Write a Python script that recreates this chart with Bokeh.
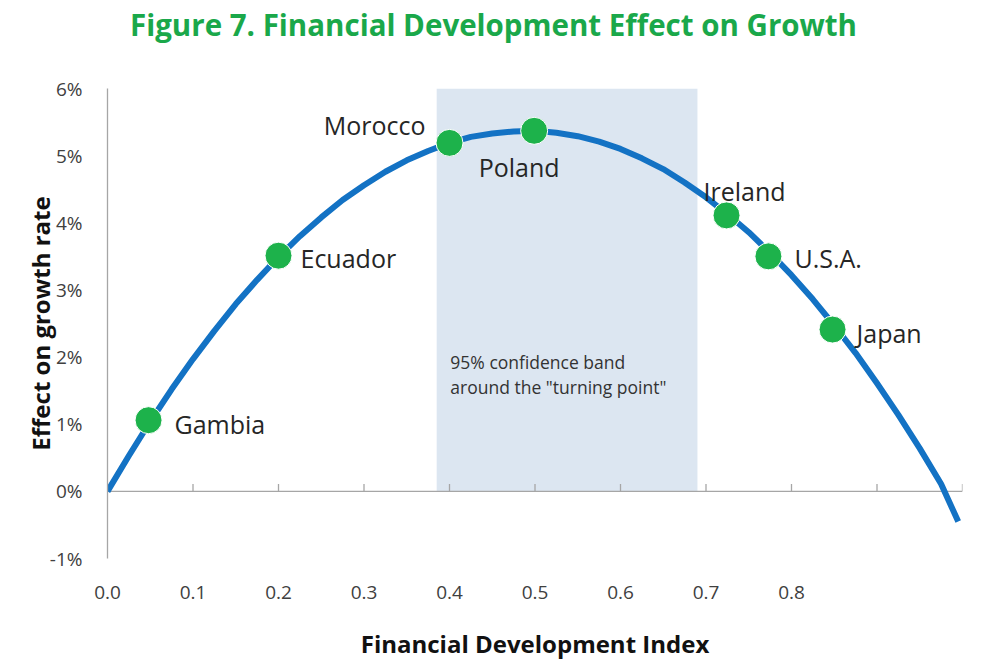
from bokeh.plotting import figure
from bokeh.models import ColumnDataSource, FixedTicker, CustomJSTickFormatter, Div
from bokeh.layouts import column
from bokeh.core.properties import value
from bokeh.embed import file_html
from bokeh.resources import INLINE

# ---- data ----
curve_x = [0.0, 0.025, 0.05, 0.075, 0.10, 0.125, 0.15, 0.175, 0.20, 0.225, 0.25,
           0.275, 0.30, 0.325, 0.35, 0.375, 0.40, 0.425, 0.45, 0.475, 0.50,
           0.525, 0.55, 0.575, 0.60, 0.625, 0.65, 0.675, 0.70, 0.725, 0.75,
           0.775, 0.80, 0.825, 0.85, 0.875, 0.90, 0.925, 0.95, 0.975, 0.995]
curve_y = [0.0, 0.53, 1.04, 1.52, 1.97, 2.39, 2.79, 3.15, 3.49, 3.80, 4.08,
           4.34, 4.56, 4.76, 4.93, 5.07, 5.19, 5.28, 5.33, 5.36, 5.37,
           5.34, 5.29, 5.21, 5.10, 4.96, 4.80, 4.60, 4.38, 4.13, 3.86,
           3.55, 3.22, 2.86, 2.47, 2.06, 1.61, 1.14, 0.64, 0.11, -0.45]

countries = ["Gambia", "Ecuador", "Morocco", "Poland", "Ireland", "U.S.A.", "Japan"]
country_x = [0.048, 0.200, 0.400, 0.499, 0.724, 0.773, 0.848]
country_y = [1.06, 3.51, 5.19, 5.37, 4.11, 3.50, 2.41]

band_left = [0.385]
band_right = [0.690]
band_bottom = [0.0]
band_top = [6.0]

x_ticks = [0.0, 0.1, 0.2, 0.3, 0.4, 0.5, 0.6, 0.7, 0.8]
x_minor_ticks = [0.0, 0.1, 0.2, 0.3, 0.4, 0.5, 0.6, 0.7, 0.8, 0.9, 1.0]
y_ticks = [-1, 0, 1, 2, 3, 4, 5, 6]

title_text = "Figure 7. Financial Development Effect on Growth"
band_text = ['95%  confidence band', 'around the "turning point"']

FONT = "Open Sans"

title_div = Div(
    text=('<div style="font-family:\'Open Sans\'; font-size:29.5px; font-weight:bold; '
          'color:#1aa84a; line-height:50px; height:50px; margin:0; padding-left:130px; '
          'white-space:nowrap;">' + title_text + '</div>'),
    width=984, height=50, margin=0)

p = figure(width=984, height=616, x_range=(0, 1.0), y_range=(-1, 6),
           output_backend="svg", toolbar_location=None,
           min_border_left=107, min_border_right=22, min_border_top=38,
           min_border_bottom=108, margin=0)
p.outline_line_color = None
p.xgrid.visible = False
p.ygrid.visible = False
p.background_fill_color = "white"

# confidence band
p.quad(left=band_left, right=band_right, bottom=band_bottom, top=band_top,
       fill_color="#dce6f1", line_color=None)

# x axis line at zero with upward tick marks
p.line(x=[x_minor_ticks[0], x_minor_ticks[-1]], y=[0, 0], line_color="#a6a6a6", line_width=1.3)
p.segment(x0=x_minor_ticks, y0=[0] * len(x_minor_ticks), x1=x_minor_ticks,
          y1=[0.11] * len(x_minor_ticks), line_color="#a6a6a6", line_width=1.3)

# curve
p.line(x=curve_x, y=curve_y, line_color="#1372c4", line_width=6, line_join="round")

# points
src = ColumnDataSource(dict(x=country_x, y=country_y, name=countries,
                            dx=[26, 22, -24, -15, -23, 26, 24],
                            dy=[4, 2, -18, 36, -24, 2, 3],
                            align=["left", "left", "right", "center", "left", "left", "left"]))
p.scatter(x="x", y="y", source=src, size=27, fill_color="#1db24b", line_color="white", line_width=1)
p.text(x="x", y="y", text="name", source=src, x_offset="dx", y_offset="dy",
       text_align="align", text_baseline="middle", text_font=value(FONT),
       text_font_size="25px", text_color="#262626")

# band annotation
p.text(x=[0.401, 0.401], y=[1.92, 1.55], text=band_text, text_align="left",
       text_baseline="middle", text_font=value(FONT), text_font_size="17.5px",
       text_color="#333333")

# axes
p.xaxis.ticker = FixedTicker(ticks=x_ticks)
p.xaxis.formatter = CustomJSTickFormatter(code="return tick.toFixed(1);")
p.xaxis.axis_line_color = None
p.xaxis.major_tick_line_color = None
p.xaxis.minor_tick_line_color = None
p.xaxis.major_label_standoff = 21
p.xaxis.major_label_text_font = FONT
p.xaxis.major_label_text_font_size = "19px"
p.xaxis.major_label_text_color = "#404040"
p.xaxis.axis_label = "Financial Development Index"
p.xaxis.axis_label_text_font = FONT
p.xaxis.axis_label_text_font_size = "24px"
p.xaxis.axis_label_text_font_style = "bold"
p.xaxis.axis_label_text_color = "#111111"
p.xaxis.axis_label_standoff = 25

p.yaxis.ticker = FixedTicker(ticks=y_ticks)
p.yaxis.formatter = CustomJSTickFormatter(code="return tick.toFixed(0) + '%';")
p.yaxis.axis_line_color = "#a6a6a6"
p.yaxis.axis_line_width = 1.3
p.yaxis.major_tick_line_color = None
p.yaxis.minor_tick_line_color = None
p.yaxis.major_label_standoff = 19
p.yaxis.major_label_text_font = FONT
p.yaxis.major_label_text_font_size = "19px"
p.yaxis.major_label_text_color = "#404040"
p.yaxis.axis_label = "Effect on growth rate"
p.yaxis.axis_label_text_font = FONT
p.yaxis.axis_label_text_font_size = "24px"
p.yaxis.axis_label_text_font_style = "bold"
p.yaxis.axis_label_text_color = "#111111"
p.yaxis.axis_label_standoff = -10

layout = column(title_div, p, spacing=0)
open("out.html", "w").write(file_html(layout, INLINE))
